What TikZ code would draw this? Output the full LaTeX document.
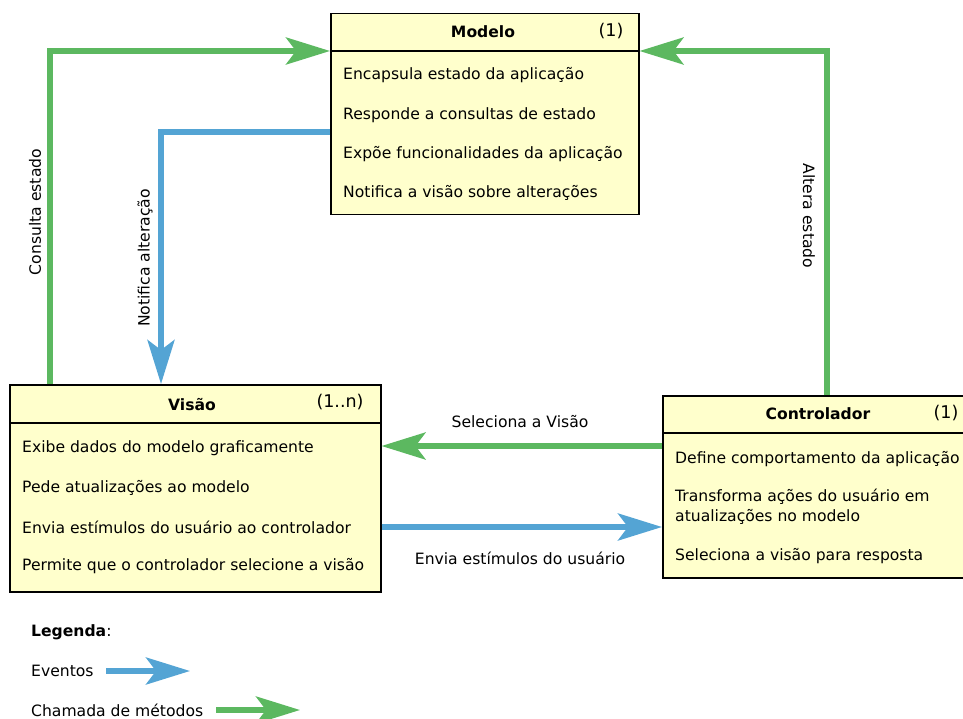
\documentclass[tikz,border=0pt]{standalone}
\usepackage{fontspec}
\setmainfont{DejaVu Sans}
\usetikzlibrary{arrows.meta}
\definecolor{boxfill}{RGB}{255,255,204}
\definecolor{callgreen}{RGB}{92,184,96}
\definecolor{eventblue}{RGB}{84,164,212}
\begin{document}
\begin{tikzpicture}[x=1pt,y=-1pt,
  every node/.style={font=\fontsize{15.6}{18}\selectfont, inner sep=0pt},
  box/.style={draw=black, fill=boxfill, line width=1.5pt, anchor=north west},
  title/.style={font=\fontsize{15.6}{18}\selectfont\bfseries},
  num/.style={font=\fontsize{17.5}{20}\selectfont},
  item/.style={anchor=west},
  tip/.style={-{Stealth[length=44pt,width=27pt,inset=10pt]}},
  call/.style={draw=callgreen, line width=5.5pt, tip},
  event/.style={draw=eventblue, line width=5.5pt, tip},
  lbl/.style={font=\fontsize{15.6}{18}\selectfont}]
\useasboundingbox (0,0) rectangle (963,719);
\clip (0,0) rectangle (963,719);

% Modelo
\node[box, minimum width=308pt, minimum height=201pt] (modelo) at (330,13) {};
\draw[line width=1.5pt] (330,51) -- (638,51);
\node[title] (modeloT) at (483,32) {Modelo};
\node[num] (modeloN) at (611,31) {(1)};
\node[item] (m1) at (343,75) {Encapsula estado da aplicação};
\node[item] (m2) at (343,115) {Responde a consultas de estado};
\node[item] (m3) at (343,154) {Expõe funcionalidades da aplicação};
\node[item] (m4) at (343,193) {Notifica a visão sobre alterações};

% Visão
\node[box, minimum width=371pt, minimum height=207pt] (visao) at (9,384) {};
\draw[line width=1.5pt] (9,423) -- (380,423);
\node[title] (visaoT) at (192,405) {Visão};
\node[num] (visaoN) at (340,402) {(1..n)};
\node[item] (v1) at (22,448) {Exibe dados do modelo graficamente};
\node[item] (v2) at (22,488) {Pede atualizações ao modelo};
\node[item] (v3) at (22,527) {Envia estímulos do usuário ao controlador};
\node[item] (v4) at (22,566) {Permite que o controlador selecione a visão};

% Controlador
\node[box, minimum width=320pt, minimum height=182pt] (ctrl) at (662,395) {};
\draw[line width=1.5pt] (662,433) -- (982,433);
\node[title] (ctrlT) at (818,414) {Controlador};
\node[num] (ctrlN) at (946,413) {(1)};
\node[item] (c1) at (675,459) {Define comportamento da aplicação};
\node[item] (c2) at (675,497) {Transforma ações do usuário em};
\node[item] (c3) at (675,517) {atualizações no modelo};
\node[item] (c4) at (675,556) {Seleciona a visão para resposta};

% Connectors
\coordinate (kc) at (50,51);
\draw[call] (kc |- visao.north) -- (kc) -- (kc -| modelo.west);
\node[lbl, rotate=90] (kcL) at (35,212) {Consulta estado};

\coordinate (kn) at (161,132);
\draw[event] (kn -| modelo.west) -- (kn) -- (kn |- visao.north);
\node[lbl, rotate=90] (knL) at (145,258) {Notifica alteração};

\coordinate (ka) at (827,51);
\draw[call] (ka |- ctrl.north) -- (ka) -- (ka -| modelo.east);
\node[lbl, rotate=-90] (kaL) at (809,216) {Altera estado};

\coordinate (ks) at (520,446);
\draw[call] (ks -| ctrl.west) -- (ks -| visao.east);
\node[lbl] (ksL) at (520,422) {Seleciona a Visão};

\coordinate (ke) at (520,527);
\draw[event] (ke -| visao.east) -- (ke -| ctrl.west);
\node[lbl] (keL) at (520,558) {Envia estímulos do usuário};

% Legend
\node[anchor=west] (leg) at (31,632) {\textbf{Legenda}:};
\node[anchor=west] (legE) at (31,671) {Eventos};
\coordinate (le1) at (106,671);
\coordinate (le2) at (190,671);
\draw[event] (le1) -- (le2);
\node[anchor=west] (legC) at (31,710) {Chamada de métodos};
\coordinate (lc1) at (216,710);
\coordinate (lc2) at (300,710);
\draw[call] (lc1) -- (lc2);
\end{tikzpicture}
\end{document}
